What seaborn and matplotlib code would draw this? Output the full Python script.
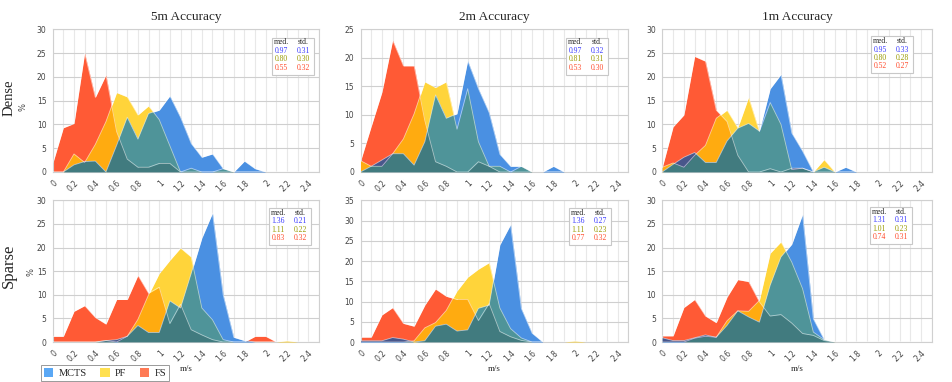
import matplotlib
matplotlib.use("Agg")
import matplotlib.pyplot as plt
from matplotlib.patches import Patch, Rectangle
import numpy as np
import seaborn as sns

# speed bins (m/s)
speed = [0.0, 0.1, 0.2, 0.3, 0.4, 0.5, 0.6, 0.7, 0.8, 0.9, 1.0, 1.1, 1.2,
         1.3, 1.4, 1.5, 1.6, 1.7, 1.8, 1.9, 2.0, 2.1, 2.2, 2.3, 2.4]

# % of samples per bin
dense_5m_mcts = [0, 0, 1.5, 2.2, 2.3, 0, 5.6, 11.5, 6.9, 12.3, 13.0, 16.0, 11.5,
                 6.0, 3.1, 3.8, 0.7, 0, 2.3, 0.7, 0, 0, 0, 0, 0]
dense_5m_pf = [0, 0, 3.8, 2.0, 5.8, 10.6, 16.7, 15.8, 12.0, 13.9, 11.0, 5.5, 0,
               0.8, 0, 0, 0.7, 0, 0, 0, 0, 0, 0, 0, 0]
dense_5m_fs = [1.8, 9.3, 10.2, 25.0, 15.7, 20.4, 8.5, 2.7, 1.0, 1.0, 1.8, 1.8, 0,
               0, 0, 0, 0, 0, 0, 0, 0, 0, 0, 0, 0]

dense_2m_mcts = [0, 1.0, 2.1, 3.2, 3.2, 1.2, 5.3, 13.5, 9.4, 10.2, 19.5, 14.6, 10.4,
                 3.1, 1.0, 1.0, 0, 0, 1.0, 0, 0, 0, 0, 0, 0]
dense_2m_pf = [2.0, 1.0, 1.0, 3.2, 5.8, 10.2, 15.8, 14.8, 15.8, 7.5, 14.6, 5.3, 1.0,
               1.0, 0, 1.0, 0, 0, 0, 0, 0, 0, 0, 0, 0]
dense_2m_fs = [1.9, 8.0, 14.0, 23.1, 18.6, 18.6, 9.0, 1.8, 1.0, 0, 0, 1.8, 1.0,
               0, 0, 0, 0, 0, 0, 0, 0, 0, 0, 0, 0]

dense_1m_mcts = [0, 1.6, 3.1, 4.1, 2.0, 2.0, 6.5, 9.2, 10.2, 8.6, 17.5, 20.5, 8.2,
                 4.4, 0, 1.0, 0, 1.0, 0, 0, 0, 0, 0, 0, 0]
dense_1m_pf = [1.0, 1.9, 1.0, 3.5, 5.6, 11.3, 13.0, 9.3, 15.7, 8.5, 14.6, 10.0, 0.5,
               0.8, 0, 2.6, 0, 0, 0, 0, 0, 0, 0, 0, 0]
dense_1m_fs = [1.0, 9.5, 12.0, 24.3, 23.3, 13.0, 10.6, 3.5, 0, 0, 0.7, 0, 0.8,
               0.8, 0, 0, 0, 0, 0, 0, 0, 0, 0, 0, 0]

sparse_5m_mcts = [0, 0, 0, 0, 0, 0.3, 0.5, 1.2, 3.5, 2.0, 2.0, 8.7, 7.2,
                  14.5, 22.0, 27.3, 10.0, 1.0, 0.3, 0, 0, 0, 0, 0, 0]
sparse_5m_pf = [0, 0, 0, 0, 0, 0.3, 0, 1.2, 4.8, 10.0, 14.5, 17.3, 19.9,
                18.0, 7.2, 4.7, 0.5, 0, 0, 0, 0, 0, 0.3, 0, 0]
sparse_5m_fs = [1.2, 1.2, 6.5, 7.7, 5.2, 3.8, 9.0, 9.0, 14.1, 10.3, 11.6, 3.9, 8.0,
                2.6, 1.5, 0.5, 0, 0, 0, 1.2, 1.2, 0, 0, 0, 0]

sparse_2m_mcts = [0.3, 0.3, 0.3, 1.1, 0.7, 0, 0.3, 3.9, 4.4, 2.7, 3.0, 8.3, 9.1,
                  24.0, 29.0, 8.3, 2.2, 0, 0, 0, 0, 0, 0, 0, 0]
sparse_2m_pf = [0, 0, 0, 0, 0, 0.3, 3.5, 4.8, 7.8, 12.6, 16.0, 18.0, 19.6,
                8.4, 3.3, 1.0, 0, 0, 0, 0, 0.3, 0, 0, 0, 0]
sparse_2m_fs = [1.2, 1.2, 6.7, 8.5, 4.6, 3.9, 9.1, 13.1, 11.3, 10.5, 10.5, 5.3, 9.5,
                2.6, 1.3, 0.4, 0, 0, 0, 0, 0, 0, 0, 0, 0]

sparse_1m_mcts = [0.9, 0.3, 0.3, 0.9, 1.5, 1.0, 3.5, 6.6, 5.3, 4.2, 12.0, 18.0, 20.7,
                  27.0, 4.9, 0.5, 0, 0, 0, 0, 0, 0, 0, 0, 0]
sparse_1m_pf = [0, 0, 0, 0.8, 1.2, 1.0, 4.5, 6.6, 6.5, 8.8, 18.8, 21.2, 16.9,
                11.3, 2.1, 0.5, 0, 0, 0, 0, 0, 0, 0, 0, 0]
sparse_1m_fs = [1.3, 1.3, 7.3, 9.0, 5.5, 4.1, 9.5, 13.2, 12.8, 8.5, 5.5, 5.8, 4.0,
                1.8, 1.4, 0.3, 0, 0, 0, 0, 0, 0, 0, 0, 0]

# (median, std) per method: MCTS, PF, FS
stats_dense_5m = [("0.97", "0.31"), ("0.80", "0.30"), ("0.55", "0.32")]
stats_dense_2m = [("0.97", "0.32"), ("0.81", "0.31"), ("0.53", "0.30")]
stats_dense_1m = [("0.95", "0.33"), ("0.80", "0.28"), ("0.52", "0.27")]
stats_sparse_5m = [("1.36", "0.21"), ("1.11", "0.22"), ("0.83", "0.32")]
stats_sparse_2m = [("1.36", "0.27"), ("1.11", "0.23"), ("0.77", "0.32")]
stats_sparse_1m = [("1.31", "0.31"), ("1.01", "0.23"), ("0.74", "0.31")]

col_titles = ["5m Accuracy", "2m Accuracy", "1m Accuracy"]
row_names = ["Dense", "Sparse"]
methods = ["MCTS", "PF", "FS"]

# colours
C_FS = "#ff5a35"
C_PF = "#ffd43a"
C_FS_PF = "#ffab10"
C_MCTS = "#4a90e2"
C_MCTS_FS = "#5868a8"
C_MCTS_PF = "#4f9499"
STAT_COLORS = ["#3a3aff", "#999900", "#ff4a2a"]
LEG_COLORS = ["#5aa8f5", "#ffe050", "#ff7a55"]

sns.set_style("whitegrid")
plt.rcParams["font.family"] = ["DejaVu Sans"]
SERIF = ["Liberation Serif", "DejaVu Serif"]

W, H = 953, 382
fig = plt.figure(figsize=(W / 100, H / 100), dpi=100)


def frac(l, t, r, b):
    return [l / W, 1 - b / H, (r - l) / W, (b - t) / H]


def draw_panel(ax, mcts, pf, fs, ymax):
    x = np.array(speed)
    ax.fill_between(x, 0, fs, color=C_FS, lw=0, zorder=2)
    yel = ax.fill_between(x, 0, pf, color=C_PF, lw=0, zorder=3)
    # overlaps: FS under PF, then MCTS over both
    org = ax.fill_between(x, 0, fs, color=C_FS_PF, lw=0, zorder=4)
    org.set_clip_path(yel.get_paths()[0], ax.transData)
    blu = ax.fill_between(x, 0, mcts, color=C_MCTS, lw=0, zorder=5)
    bpath = blu.get_paths()[0]
    pur = ax.fill_between(x, 0, fs, color=C_MCTS_FS, lw=0, zorder=6)
    pur.set_clip_path(bpath, ax.transData)
    teal = ax.fill_between(x, 0, pf, color=C_MCTS_PF, lw=0, zorder=7)
    teal.set_clip_path(bpath, ax.transData)
    dark = ax.fill_between(x, 0, fs, color="black", alpha=0.17, lw=0, zorder=8)
    dark.set_clip_path(bpath, ax.transData)
    for ys in (fs, pf, mcts):
        sns.lineplot(x=speed, y=ys, ax=ax, color="white", lw=0.6, alpha=0.55,
                     zorder=9)

    ax.set_xlim(0, 2.5)
    ax.set_ylim(0, ymax)
    ax.set_xticks(np.arange(0, 2.41, 0.2))
    ax.set_xticks(np.arange(0, 2.51, 0.1), minor=True)
    ax.set_xticklabels([f"{v:g}" for v in np.round(np.arange(0, 2.41, 0.2), 1)],
                       rotation=45, ha="right", rotation_mode="anchor")
    ax.set_yticks(np.arange(0, ymax + 0.1, 5))
    ax.set_yticklabels([f"{v:g}" for v in np.arange(0, ymax + 0.1, 5)])
    ax.grid(axis="y", color="#cfcfcf", lw=0.8)
    ax.grid(axis="x", which="both", color="#e8e8e8", lw=0.8)
    ax.tick_params(axis="both", which="major", labelsize=5.5, labelcolor="#444444",
                   length=3, width=0.6, color="#bbbbbb", pad=1.5)
    ax.tick_params(axis="x", which="minor", length=0)
    for s in ax.spines.values():
        s.set_color("#d0d0d0")
        s.set_linewidth(0.8)
    ax.set_axisbelow(True)


def draw_stats(box_l, box_t, stats):
    bw, bh = 42, 37
    fig.patches.append(Rectangle((box_l / W, 1 - (box_t + bh) / H), bw / W, bh / H,
                                 transform=fig.transFigure, facecolor="white",
                                 edgecolor="#c8c8c8", lw=0.8, zorder=20))
    cx = [box_l + 9, box_l + 31]
    for j, head in enumerate(["med.", "std."]):
        fig.text(cx[j] / W, 1 - (box_t + 5) / H, head, ha="center", va="center",
                 fontsize=5.5, family=SERIF, color="#222222", zorder=21)
    for i, (med, std) in enumerate(stats):
        yy = 1 - (box_t + 13.5 + 8.4 * i) / H
        for j, val in enumerate((med, std)):
            fig.text(cx[j] / W, yy, val, ha="center", va="center", fontsize=5.5,
                     family=SERIF, color=STAT_COLORS[i], zorder=21)


panels = [
    (0, 0, dense_5m_mcts, dense_5m_pf, dense_5m_fs, 30, stats_dense_5m, (272, 37.5)),
    (0, 1, dense_2m_mcts, dense_2m_pf, dense_2m_fs, 25, stats_dense_2m, (566, 37.5)),
    (0, 2, dense_1m_mcts, dense_1m_pf, dense_1m_fs, 30, stats_dense_1m, (871, 36)),
    (1, 0, sparse_5m_mcts, sparse_5m_pf, sparse_5m_fs, 30, stats_sparse_5m, (269, 208)),
    (1, 1, sparse_2m_mcts, sparse_2m_pf, sparse_2m_fs, 35, stats_sparse_2m, (569, 208)),
    (1, 2, sparse_1m_mcts, sparse_1m_pf, sparse_1m_fs, 30, stats_sparse_1m, (870, 207)),
]
col_l = [52.7, 360.5, 662.3]
col_r = [319, 628.5, 932]
row_t = [29.3, 200.3]
row_b = [172, 342]

for r, c, mcts, pf, fs, ymax, stats, box in panels:
    ax = fig.add_axes(frac(col_l[c], row_t[r], col_r[c], row_b[r]))
    draw_panel(ax, mcts, pf, fs, ymax)
    if r == 0:
        ax.set_title(col_titles[c], family=SERIF, fontsize=9.5, pad=7)
    else:
        ax.set_xlabel("m/s", family=SERIF, fontsize=6.5, labelpad=1)
    draw_stats(box[0], box[1], stats)

# row labels
fig.text(9 / W, 1 - 98 / H, "Dense", rotation=90, ha="center", va="center",
         family=SERIF, fontsize=10.5)
fig.text(23 / W, 1 - 107 / H, "%", rotation=90, ha="center", va="center",
         fontsize=6, color="#444444")
fig.text(9 / W, 1 - 266 / H, "Sparse", rotation=90, ha="center", va="center",
         family=SERIF, fontsize=12)
fig.text(31 / W, 1 - 272 / H, "%", rotation=90, ha="center", va="center",
         fontsize=6, color="#444444")

handles = [Patch(facecolor=col, edgecolor="none") for col in LEG_COLORS]
leg = fig.legend(handles, methods, loc="center", bbox_to_anchor=(105 / W, 1 - 373.3 / H),
                 ncol=3, frameon=True, fancybox=False, framealpha=1, edgecolor="#999999",
                 prop={"family": SERIF, "size": 7.5}, handlelength=0.9,
                 handleheight=0.9, handletextpad=0.5, columnspacing=1.3,
                 borderpad=0.3)
leg.get_frame().set_linewidth(0.7)

fig.savefig("out.png", dpi=100)
